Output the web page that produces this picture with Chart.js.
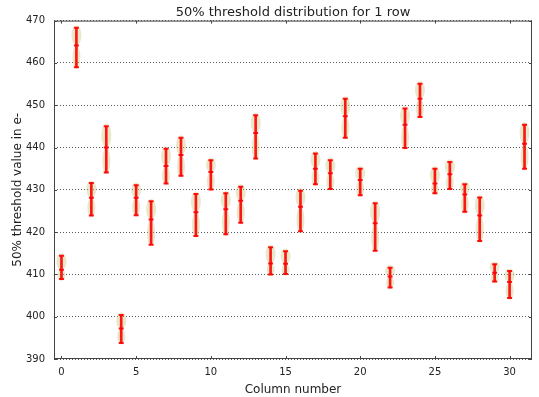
<!DOCTYPE html>
<html>
<head>
<meta charset="utf-8">
<script src="https://cdn.jsdelivr.net/npm/chart.js@4/dist/chart.umd.min.js"></script>
<style>
  html, body { margin: 0; padding: 0; background: #fff; }
  #wrap { width: 539px; height: 397px; }
</style>
</head>
<body>
<div id="wrap"><canvas id="my-chart"></canvas></div>
<script>
// column index along the row
const columns = [0, 1, 2, 3, 4, 5, 6, 7, 8, 9, 10, 11, 12, 13, 14, 15,
  16, 17, 18, 19, 20, 21, 22, 23, 24, 25, 26, 27, 28, 29, 30, 31];

// error bar ends and centre mark, in e-
const errHigh = [414.4, 468.3, 431.6, 445.0, 400.4, 431.1, 427.3, 439.7,
  442.3, 429.0, 437.0, 429.2, 430.7, 447.6, 416.4, 415.5,
  429.8, 438.6, 437.0, 451.5, 435.0, 426.8, 411.6, 449.2,
  455.1, 435.0, 436.6, 431.3, 428.2, 412.4, 410.8, 445.4];
const errLow = [408.9, 459.0, 423.9, 434.1, 393.8, 424.0, 417.0, 431.5,
  433.3, 419.1, 430.1, 419.5, 422.2, 437.4, 410.0, 410.1,
  420.2, 431.3, 430.2, 442.3, 428.7, 415.6, 406.9, 439.9,
  447.2, 429.2, 430.2, 424.8, 417.9, 408.3, 404.4, 435.0];
const errMid = [411.1, 464.1, 428.1, 440.0, 397.2, 428.1, 423.0, 435.6,
  438.2, 424.7, 434.2, 425.4, 427.4, 443.4, 412.6, 412.5,
  426.0, 435.0, 433.9, 447.4, 432.3, 422.1, 409.5, 445.4,
  451.5, 431.5, 433.7, 428.9, 423.9, 410.4, 408.2, 440.9];

const xTicks = [0, 5, 10, 15, 20, 25, 30];
const yTicks = [390, 400, 410, 420, 430, 440, 450, 460, 470];

const RED = "rgba(255,0,0,0.9)";
const FONT = "'DejaVu Sans', sans-serif";

// pale violins behind the error bars
const violinPlugin = {
  id: "violins",
  beforeDatasetsDraw(chart) {
    const { ctx, chartArea, scales } = chart;
    ctx.save();
    ctx.beginPath();
    ctx.rect(chartArea.left, chartArea.top, chartArea.width, chartArea.height);
    ctx.clip();
    ctx.fillStyle = "rgba(205,200,130,0.42)";
    for (let i = 0; i < columns.length; i++) {
      const px = scales.x.getPixelForValue(columns[i]);
      const top = scales.y.getPixelForValue(errHigh[i] + 0.6);
      const mid = scales.y.getPixelForValue(errMid[i]);
      const bot = scales.y.getPixelForValue(errLow[i] - 0.4);
      ctx.beginPath();
      ctx.ellipse(px, (top + mid) / 2, 5, Math.max((mid - top) / 2, 2.5), 0, 0, Math.PI * 2);
      ctx.fill();
      ctx.beginPath();
      ctx.ellipse(px, (mid + bot) / 2, 4, Math.max((bot - mid) / 2, 2.5), 0, 0, Math.PI * 2);
      ctx.fill();
    }
    ctx.restore();
  },
};

// box round the plot and inward tick marks
const framePlugin = {
  id: "frame",
  afterDraw(chart) {
    const { ctx, chartArea: a, scales } = chart;
    ctx.save();
    ctx.strokeStyle = "#444";
    ctx.lineWidth = 1;
    ctx.strokeRect(a.left + 0.5, a.top + 0.5, a.width - 1, a.height - 1);
    ctx.beginPath();
    xTicks.forEach((v) => {
      const px = Math.round(scales.x.getPixelForValue(v)) + 0.5;
      ctx.moveTo(px, a.top);
      ctx.lineTo(px, a.top + 3);
      ctx.moveTo(px, a.bottom);
      ctx.lineTo(px, a.bottom - 3);
    });
    yTicks.forEach((v) => {
      const py = Math.round(scales.y.getPixelForValue(v)) + 0.5;
      ctx.moveTo(a.left, py);
      ctx.lineTo(a.left + 3, py);
      ctx.moveTo(a.right, py);
      ctx.lineTo(a.right - 3, py);
    });
    ctx.stroke();
    ctx.restore();
  },
};

const ctx = document.getElementById("my-chart");

new Chart(ctx, {
  type: "bar",
  data: {
    datasets: [
      {
        type: "bar",
        label: "range",
        data: columns.map((c, i) => ({ x: c, y: [errLow[i], errHigh[i]] })),
        backgroundColor: RED,
        borderWidth: 0,
        barThickness: 2,
      },
      {
        type: "scatter",
        label: "high",
        data: columns.map((c, i) => ({ x: c, y: errHigh[i] })),
        pointStyle: "line",
        pointRadius: 2.5,
        borderColor: RED,
        borderWidth: 2,
      },
      {
        type: "scatter",
        label: "low",
        data: columns.map((c, i) => ({ x: c, y: errLow[i] })),
        pointStyle: "line",
        pointRadius: 2.5,
        borderColor: RED,
        borderWidth: 2,
      },
      {
        type: "scatter",
        label: "centre",
        data: columns.map((c, i) => ({ x: c, y: errMid[i] })),
        pointStyle: "line",
        pointRadius: 2.5,
        borderColor: RED,
        borderWidth: 2,
      },
    ],
  },
  options: {
    responsive: true,
    maintainAspectRatio: false,
    animation: false,
    layout: { padding: { left: 0, right: 7, top: 0, bottom: 0 } },
    plugins: {
      legend: { display: false },
      tooltip: { enabled: false },
      title: {
        display: true,
        fullSize: false,
        text: "50% threshold distribution for 1 row",
        color: "#222",
        font: { family: FONT, size: 13, weight: "normal" },
        padding: { top: 5, bottom: 0 },
      },
    },
    scales: {
      x: {
        type: "linear",
        min: -0.5,
        max: 31.5,
        offset: false,
        afterBuildTicks: (scale) => {
          scale.ticks = xTicks.map((v) => ({ value: v }));
        },
        afterFit: (scale) => {
          scale.height = 38;
        },
        grid: { display: false, drawTicks: false, offset: false },
        border: { display: false },
        ticks: {
          color: "#222",
          font: { family: FONT, size: 10 },
          padding: 7,
          maxRotation: 0,
        },
        title: {
          display: true,
          text: "Column number",
          color: "#222",
          font: { family: FONT, size: 12 },
          padding: { top: 0, bottom: 0 },
        },
      },
      y: {
        min: 390,
        max: 470,
        afterBuildTicks: (scale) => {
          scale.ticks = yTicks.map((v) => ({ value: v }));
        },
        afterFit: (scale) => {
          scale.width = 54;
        },
        grid: {
          color: "rgba(0,0,0,0.65)",
          lineWidth: 1,
          drawTicks: false,
        },
        border: { display: false, dash: [1, 2] },
        ticks: {
          color: "#222",
          font: { family: FONT, size: 10 },
          padding: 9,
        },
        title: {
          display: true,
          text: "50% threshold value in e-",
          color: "#222",
          font: { family: FONT, size: 12 },
          padding: { top: 11, bottom: 0 },
        },
      },
    },
  },
  plugins: [violinPlugin, framePlugin],
});
</script>
</body>
</html>
